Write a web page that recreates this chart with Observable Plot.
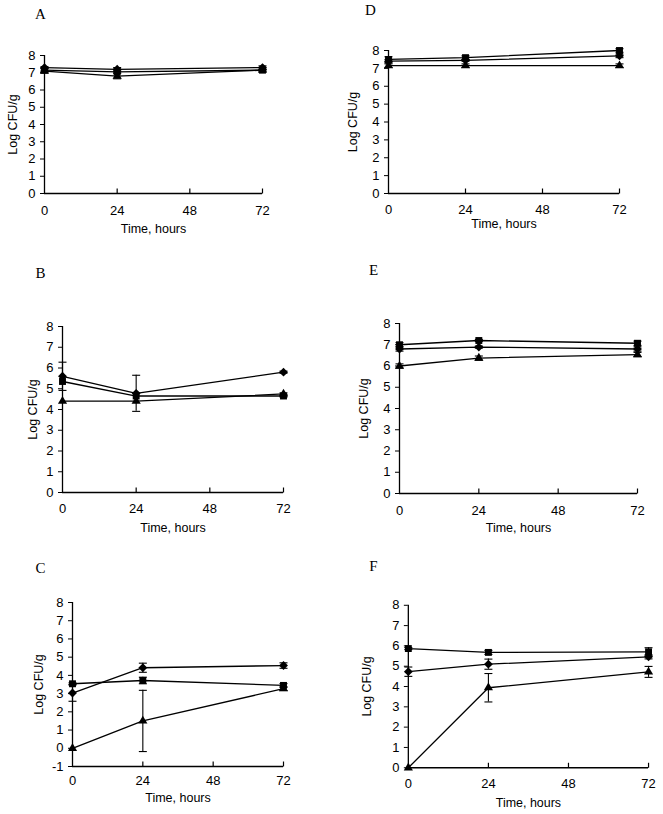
<!DOCTYPE html>
<html>
<head>
<meta charset="utf-8">
<script src="https://cdn.jsdelivr.net/npm/d3@7"></script>
<script src="https://cdn.jsdelivr.net/npm/@observablehq/plot@0.6"></script>
<style>
html, body { margin: 0; padding: 0; background: #fff; }
#root { position: relative; width: 663px; height: 814px; overflow: hidden; background: #fff; }
.panel { position: absolute; }
</style>
</head>
<body>
<div id="root"></div>
<script>
// ---------- data ----------
const hours = [0, 24, 72];
const xTicks = [0, 24, 48, 72];
const yTicks = [0, 1, 2, 3, 4, 5, 6, 7, 8];
const yTicksC = [-1, 0, 1, 2, 3, 4, 5, 6, 7, 8];
const yLabel = "Log CFU/g";
const xLabel = "Time, hours";

// Panel A
const A_diamond = [7.3, 7.2, 7.3];       const A_diamond_err = [0.05, 0.1, 0.1];
const A_square = [7.15, 7.05, 7.15];     const A_square_err = [0.1, 0.05, 0.05];
const A_triangle = [7.1, 6.8, 7.15];     const A_triangle_err = [0.05, 0.15, 0.05];
// Panel B
const B_diamond = [5.6, 4.78, 5.8];      const B_diamond_err = [0.68, 0.87, 0.05];
const B_square = [5.35, 4.65, 4.65];     const B_square_err = [0, 0, 0.05];
const B_triangle = [4.4, 4.4, 4.75];     const B_triangle_err = [0, 0, 0.05];
// Panel C
const C_diamond = [3.03, 4.42, 4.54];    const C_diamond_err = [0.45, 0.25, 0.15];
const C_square = [3.54, 3.72, 3.45];     const C_square_err = [0.05, 0.18, 0.1];
const C_triangle = [0, 1.5, 3.27];       const C_triangle_err = [0, 1.68, 0.1];
// Panel D
const D_diamond = [7.4, 7.45, 7.7];      const D_diamond_err = [0.1, 0.05, 0.1];
const D_square = [7.5, 7.6, 8.0];        const D_square_err = [0.15, 0.1, 0.1];
const D_triangle = [7.15, 7.15, 7.15];   const D_triangle_err = [0.1, 0.1, 0.1];
// Panel E
const E_diamond = [6.8, 6.89, 6.8];      const E_diamond_err = [0.1, 0.05, 0.1];
const E_square = [7.0, 7.2, 7.07];       const E_square_err = [0.1, 0.05, 0.1];
const E_triangle = [6.0, 6.37, 6.54];    const E_triangle_err = [0.1, 0.1, 0.1];
// Panel F
const F_diamond = [4.73, 5.1, 5.46];     const F_diamond_err = [0.23, 0.25, 0.1];
const F_square = [5.87, 5.68, 5.71];     const F_square_err = [0.05, 0.1, 0.2];
const F_triangle = [0, 3.94, 4.72];      const F_triangle_err = [0, 0.7, 0.27];

// ---------- symbols ----------
const vtick = { draw(ctx, size) { const r = Math.sqrt(size / Math.PI); ctx.moveTo(0, 0); ctx.lineTo(0, -r); } };
const hcap = { draw(ctx, size) { const r = Math.sqrt(size / Math.PI); ctx.moveTo(-r, 0); ctx.lineTo(r, 0); } };

const markerStyle = {
  diamond: { symbol: "diamond2", r: 4 },
  square: { symbol: "square", r: 3.9 },
  triangle: { symbol: "triangle", r: 3.4 }
};

// ---------- layout ----------
const panels = [
  { letter: "A", s: { diamond: [A_diamond, A_diamond_err], square: [A_square, A_square_err], triangle: [A_triangle, A_triangle_err] },
    x0: 44, x72: 262, yTop: 55, yBot: 193, yDomain: [0, 8], ticks: yTicks, lx: -4, ly: -41, yOff: 32, xDy: 35, tp: 12 },
  { letter: "D", s: { diamond: [D_diamond, D_diamond_err], square: [D_square, D_square_err], triangle: [D_triangle, D_triangle_err] },
    x0: 388, x72: 619, yTop: 50, yBot: 193, yDomain: [0, 8], ticks: yTicks, lx: -18, ly: -40, yOff: 36, xDy: 30, tp: 11 },
  { letter: "B", s: { diamond: [B_diamond, B_diamond_err], square: [B_square, B_square_err], triangle: [B_triangle, B_triangle_err] },
    x0: 62, x72: 283, yTop: 326, yBot: 492, yDomain: [0, 8], ticks: yTicks, lx: -22, ly: -53, yOff: 30, xDy: 35, tp: 11 },
  { letter: "E", s: { diamond: [E_diamond, E_diamond_err], square: [E_square, E_square_err], triangle: [E_triangle, E_triangle_err] },
    x0: 399, x72: 637, yTop: 323, yBot: 493, yDomain: [0, 8], ticks: yTicks, lx: -26, ly: -53, yOff: 36, xDy: 34, tp: 12 },
  { letter: "C", s: { diamond: [C_diamond, C_diamond_err], square: [C_square, C_square_err], triangle: [C_triangle, C_triangle_err] },
    x0: 72, x72: 283, yTop: 602, yBot: 766, yDomain: [-1, 8], ticks: yTicksC, lx: -32, ly: -34, yOff: 34, xDy: 31, tp: 9 },
  { letter: "F", s: { diamond: [F_diamond, F_diamond_err], square: [F_square, F_square_err], triangle: [F_triangle, F_triangle_err] },
    x0: 408, x72: 649, yTop: 605, yBot: 768, yDomain: [0, 8], ticks: yTicks, lx: -35, ly: -39, yOff: 41, xDy: 35, tp: 11 }
];

const root = document.getElementById("root");
const mL = 52, mT = 65, mR = 15, mB = 45;
const font = "'Liberation Sans', Arial, Helvetica, sans-serif";

for (const p of panels) {
  const rows = [];
  for (const name of ["square", "diamond", "triangle"]) {
    const [vals, errs] = p.s[name];
    hours.forEach((h, i) => rows.push({ series: name, hour: h, value: vals[i], err: errs[i] }));
  }
  const errRows = rows.filter(d => d.err > 0);
  const ymin = p.yDomain[0];

  const marks = [
    Plot.ruleX([0], { stroke: "black", strokeWidth: 1.3 }),
    Plot.ruleY([ymin], { stroke: "black", strokeWidth: 1.3 }),
    Plot.dot(xTicks.filter(t => t > 0), { x: d => d, y: ymin, symbol: vtick, r: 5, stroke: "black", fill: "none", strokeWidth: 1.2 }),
    Plot.axisY({ ticks: p.ticks, tickSize: 4, tickPadding: 5, tickFormat: d => String(d), label: null, stroke: "black", fill: "black", fontSize: 13 }),
    Plot.axisX({ ticks: xTicks, tickSize: 0, tickPadding: p.tp, tickFormat: d => String(d), label: null, fill: "black", fontSize: 13 }),
    Plot.line(rows, { x: "hour", y: "value", z: "series", stroke: "black", strokeWidth: 1.3 }),
    Plot.ruleX(errRows, { x: "hour", y1: d => d.value - d.err, y2: d => d.value + d.err, stroke: "black", strokeWidth: 1.1 }),
    Plot.dot(errRows, { x: "hour", y: d => d.value + d.err, symbol: hcap, r: 4, stroke: "black", fill: "none", strokeWidth: 1.1 }),
    Plot.dot(errRows, { x: "hour", y: d => d.value - d.err, symbol: hcap, r: 4, stroke: "black", fill: "none", strokeWidth: 1.1 })
  ];
  for (const name of ["triangle", "square", "diamond"]) {
    const st = markerStyle[name];
    marks.push(Plot.dot(rows.filter(d => d.series === name), { x: "hour", y: "value", symbol: st.symbol, r: st.r, fill: "black", stroke: "none" }));
  }
  marks.push(
    Plot.text([yLabel], { frameAnchor: "left", text: d => d, rotate: -90, dx: -p.yOff, textAnchor: "middle", lineAnchor: "middle", fontSize: 12.5, fill: "black" }),
    Plot.text([xLabel], { frameAnchor: "bottom", text: d => d, dy: p.xDy, textAnchor: "middle", lineAnchor: "middle", fontSize: 12.5, fill: "black" }),
    Plot.text([p.letter], { frameAnchor: "top-left", text: d => d, dx: p.lx, dy: p.ly, textAnchor: "middle", lineAnchor: "middle", fontSize: 15, fontFamily: "'Liberation Serif', 'Times New Roman', serif", fill: "black" })
  );

  const chart = Plot.plot({
    width: p.x72 - p.x0 + mL + mR,
    height: p.yBot - p.yTop + mT + mB,
    marginLeft: mL, marginRight: mR, marginTop: mT, marginBottom: mB,
    style: { background: "transparent", fontFamily: font, fontSize: "13px", color: "black" },
    x: { domain: [0, 72], label: null },
    y: { domain: p.yDomain, label: null },
    marks
  });
  const div = document.createElement("div");
  div.className = "panel";
  div.style.left = (p.x0 - mL) + "px";
  div.style.top = (p.yTop - mT) + "px";
  div.appendChild(chart);
  root.appendChild(div);
}
</script>
</body>
</html>
